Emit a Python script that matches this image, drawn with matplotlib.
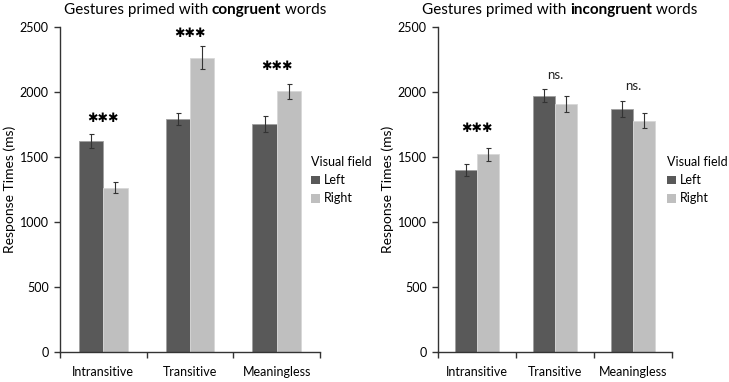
import matplotlib
matplotlib.use("Agg")
import matplotlib.pyplot as plt
import numpy as np

plt.rcParams['font.family'] = ['Lato', 'DejaVu Sans']

categories = ["Intransitive", "Transitive", "Meaningless"]
series_names = ["Left", "Right"]

cong_left = [1625, 1790, 1755]
cong_right = [1265, 2265, 2005]
cong_left_err = [55, 45, 60]
cong_right_err = [40, 90, 55]
cong_sig = ["***", "***", "***"]
cong_sig_y = [1800, 2450, 2200]

incong_left = [1400, 1970, 1870]
incong_right = [1520, 1910, 1780]
incong_left_err = [45, 50, 60]
incong_right_err = [50, 60, 58]
incong_sig = ["***", "ns.", "ns."]
incong_sig_y = [1720, 2130, 2045]

yticks = [0, 500, 1000, 1500, 2000, 2500]

c_left = "#595959"
c_right = "#bfbfbf"

fig = plt.figure(figsize=(7.29, 3.82), dpi=100)

def panel(rect, left, right, lerr, rerr, sig, sig_y, word, legend_xy):
    ax = fig.add_axes(rect)
    x = np.arange(len(categories)) + 0.5
    w = 0.28
    ax.bar(x - w/2, left, w, color=c_left, edgecolor="#a0a0a0", linewidth=0.6, label=series_names[0])
    ax.bar(x + w/2, right, w, color=c_right, edgecolor="#d8d8d8", linewidth=0.6, label=series_names[1])
    ax.errorbar(x - w/2, left, yerr=lerr, fmt='none', ecolor='#333333', elinewidth=0.8, capsize=1.8, capthick=0.8)
    ax.errorbar(x + w/2, right, yerr=rerr, fmt='none', ecolor='#333333', elinewidth=0.8, capsize=1.8, capthick=0.8)
    for xi, s, yv in zip(x, sig, sig_y):
        if s == "***":
            ax.text(xi, yv, "\u2731\u2731\u2731", ha='center', va='center', fontsize=9,
                    family=['DejaVu Sans'], color='black')
        else:
            ax.text(xi, yv, s, ha='center', va='center', fontsize=9.5, color='#222222')
    ax.set_xlim(0, 3)
    ax.set_ylim(0, 2500)
    ax.set_yticks(yticks)
    ax.set_yticklabels([str(t) for t in yticks], fontsize=9)
    ax.set_xticks([0, 1, 2, 3])
    ax.set_xticklabels([])
    ax.set_xticks(x, minor=True)
    ax.set_xticklabels(categories, minor=True, fontsize=9)
    ax.tick_params(axis='x', which='minor', length=0, pad=10)
    ax.tick_params(axis='x', which='major', length=4, direction='out', width=1, color='#333333')
    ax.tick_params(axis='y', length=4, direction='out', width=1, color='#333333', pad=4)
    for s in ['top', 'right']:
        ax.spines[s].set_visible(False)
    for s in ['left', 'bottom']:
        ax.spines[s].set_color('#333333')
        ax.spines[s].set_linewidth(1)
    ax.set_ylabel("Response Times (ms)", fontsize=10, labelpad=3)
    # Title with bold part
    t1 = fig.text(0, 0, "Gestures primed with ", fontsize=11)
    t2 = fig.text(0, 0, word, fontsize=11, fontweight='bold')
    t3 = fig.text(0, 0, " words", fontsize=11)
    fig.canvas.draw()
    r = fig.canvas.get_renderer()
    ws = [t.get_window_extent(r).width for t in (t1, t2, t3)]
    total = sum(ws)
    cx = (rect[0] + rect[2] / 2) * fig.bbox.width
    cx = cx + 5
    start = cx - total / 2
    ytop = fig.bbox.height - 14
    pos = start
    for t, wd in zip((t1, t2, t3), ws):
        t.set_position((pos / fig.bbox.width, ytop / fig.bbox.height))
        t.set_va('baseline')
        pos += wd
    leg = ax.legend(loc='upper left', bbox_to_anchor=legend_xy, bbox_transform=fig.transFigure,
                    title="Visual field", frameon=False, fontsize=9, title_fontsize=9,
                    handlelength=0.7, handleheight=0.7, handletextpad=0.3, labelspacing=0.5,
                    alignment='left', borderpad=0, borderaxespad=0)
    for h in leg.legend_handles:
        h.set_edgecolor('none')
    return ax

panel([60/729, 1 - 352/382, 260/729, 325/382], cong_left, cong_right,
      cong_left_err, cong_right_err, cong_sig, cong_sig_y, "congruent",
      (311/729, 1 - 156/382))
panel([438/729, 1 - 352/382, 234/729, 325/382], incong_left, incong_right,
      incong_left_err, incong_right_err, incong_sig, incong_sig_y, "incongruent",
      (667/729, 1 - 156/382))

fig.savefig("out.png", dpi=100)
